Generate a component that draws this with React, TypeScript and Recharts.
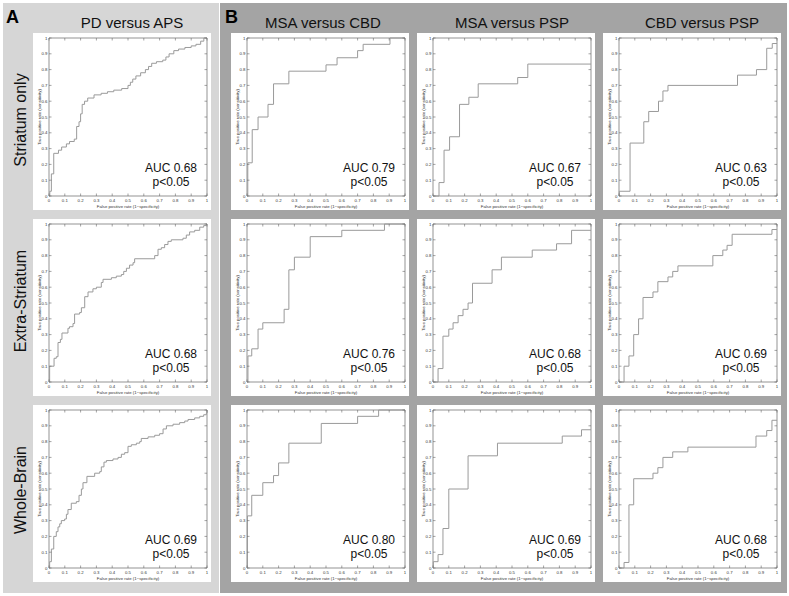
import { LineChart, Line, XAxis, YAxis, ReferenceArea } from 'recharts';

const FONT = '"Liberation Sans", Arial, Helvetica, sans-serif';

// tick values shared by both axes
const TICKS = [0, 0.1, 0.2, 0.3, 0.4, 0.5, 0.6, 0.7, 0.8, 0.9, 1];

const columnTitles = ['PD versus APS', 'MSA versus CBD', 'MSA versus PSP', 'CBD versus PSP'];
const rowTitles = ['Striatum only', 'Extra-Striatum', 'Whole-Brain'];

// ROC points [false positive rate, true positive rate], drawn as steps
const pdApsStriatum = [
  [0, 0], [0.005, 0.03], [0.015, 0.14], [0.03, 0.27], [0.06, 0.29], [0.08, 0.31], [0.11, 0.33],
  [0.13, 0.345], [0.16, 0.36], [0.175, 0.44], [0.19, 0.47], [0.2, 0.52], [0.21, 0.58], [0.225, 0.6],
  [0.245, 0.62], [0.285, 0.64], [0.33, 0.65], [0.37, 0.66], [0.41, 0.67], [0.46, 0.68], [0.5, 0.7],
  [0.515, 0.72], [0.53, 0.74], [0.55, 0.76], [0.58, 0.78], [0.61, 0.8], [0.63, 0.82], [0.65, 0.84],
  [0.68, 0.85], [0.72, 0.86], [0.74, 0.88], [0.76, 0.9], [0.79, 0.92], [0.82, 0.93], [0.86, 0.94],
  [0.9, 0.95], [0.93, 0.96], [0.96, 0.98], [0.98, 1], [1, 1],
];
const pdApsExtra = [
  [0, 0], [0.004, 0.1], [0.032, 0.15], [0.046, 0.16], [0.057, 0.25], [0.072, 0.27], [0.082, 0.31],
  [0.12, 0.34], [0.13, 0.35], [0.152, 0.37], [0.162, 0.43], [0.194, 0.44], [0.205, 0.47], [0.226, 0.54],
  [0.247, 0.57], [0.278, 0.59], [0.3, 0.6], [0.331, 0.63], [0.342, 0.65], [0.395, 0.66], [0.426, 0.67],
  [0.458, 0.68], [0.473, 0.7], [0.49, 0.72], [0.51, 0.74], [0.532, 0.755], [0.542, 0.78], [0.669, 0.8],
  [0.69, 0.84], [0.711, 0.85], [0.732, 0.87], [0.753, 0.89], [0.774, 0.9], [0.848, 0.91], [0.869, 0.93],
  [0.89, 0.95], [0.922, 0.96], [0.954, 0.98], [0.979, 0.99], [0.996, 1], [1, 1],
];
const pdApsWhole = [
  [0, 0], [0.004, 0.04], [0.015, 0.12], [0.03, 0.2], [0.046, 0.23], [0.057, 0.26], [0.068, 0.28],
  [0.078, 0.3], [0.099, 0.31], [0.11, 0.34], [0.12, 0.37], [0.141, 0.41], [0.173, 0.42], [0.19, 0.46],
  [0.205, 0.5], [0.215, 0.54], [0.24, 0.58], [0.289, 0.6], [0.321, 0.61], [0.331, 0.64], [0.348, 0.67],
  [0.363, 0.68], [0.405, 0.69], [0.437, 0.7], [0.458, 0.72], [0.479, 0.73], [0.5, 0.77], [0.521, 0.78],
  [0.553, 0.79], [0.574, 0.8], [0.584, 0.82], [0.627, 0.83], [0.669, 0.84], [0.7, 0.85], [0.722, 0.88],
  [0.743, 0.9], [0.785, 0.91], [0.827, 0.92], [0.859, 0.93], [0.88, 0.94], [0.922, 0.95], [0.954, 0.96],
  [0.979, 0.97], [0.996, 0.98], [1, 1],
];
const msaCbdStriatum = [
  [0, 0], [0.005, 0.21], [0.033, 0.42], [0.07, 0.5], [0.133, 0.58], [0.168, 0.71], [0.265, 0.79],
  [0.5, 0.83], [0.57, 0.875], [0.7, 0.92], [0.735, 0.96], [0.905, 1], [1, 1],
];
const msaCbdExtra = [
  [0, 0], [0.006, 0.165], [0.03, 0.21], [0.07, 0.335], [0.1, 0.375], [0.235, 0.46], [0.265, 0.71],
  [0.3, 0.79], [0.4, 0.92], [0.6, 0.96], [0.87, 1], [1, 1],
];
const msaCbdWhole = [
  [0, 0], [0.003, 0.33], [0.03, 0.46], [0.1, 0.54], [0.168, 0.585], [0.2, 0.665], [0.265, 0.79],
  [0.47, 0.915], [0.7, 0.96], [0.833, 1], [1, 1],
];
const msaPspStriatum = [
  [0, 0], [0.038, 0.085], [0.07, 0.29], [0.105, 0.375], [0.168, 0.58], [0.227, 0.625], [0.286, 0.71],
  [0.536, 0.75], [0.6, 0.835], [1, 0.835],
];
const msaPspExtra = [
  [0, 0], [0.032, 0.085], [0.063, 0.29], [0.1, 0.335], [0.127, 0.375], [0.159, 0.42], [0.19, 0.46],
  [0.222, 0.5], [0.25, 0.625], [0.374, 0.71], [0.433, 0.79], [0.628, 0.835], [0.782, 0.875],
  [0.877, 0.96], [1, 0.96],
];
const msaPspWhole = [
  [0, 0], [0.002, 0.04], [0.032, 0.085], [0.063, 0.25], [0.1, 0.5], [0.222, 0.71], [0.408, 0.79],
  [0.818, 0.835], [0.94, 0.875], [1, 0.875],
];
const cbdPspStriatum = [
  [0, 0], [0.002, 0.03], [0.07, 0.335], [0.157, 0.47], [0.188, 0.535], [0.25, 0.6], [0.278, 0.665],
  [0.31, 0.7], [0.75, 0.765], [0.87, 0.8], [0.935, 0.935], [0.97, 0.965], [1, 0.965],
];
const cbdPspExtra = [
  [0, 0], [0.032, 0.1], [0.063, 0.165], [0.093, 0.3], [0.124, 0.4], [0.152, 0.535], [0.215, 0.57],
  [0.246, 0.635], [0.31, 0.665], [0.34, 0.7], [0.373, 0.735], [0.594, 0.8], [0.657, 0.835],
  [0.684, 0.865], [0.716, 0.935], [0.968, 0.965], [1, 0.965],
];
const cbdPspWhole = [
  [0, 0], [0.032, 0.035], [0.063, 0.4], [0.093, 0.565], [0.215, 0.6], [0.246, 0.635], [0.278, 0.7],
  [0.34, 0.735], [0.436, 0.765], [0.867, 0.835], [0.935, 0.87], [0.968, 0.935], [1, 0.935],
];

const aucValues = [
  ['0.68', '0.79', '0.67', '0.63'],
  ['0.68', '0.76', '0.68', '0.69'],
  ['0.69', '0.80', '0.69', '0.68'],
];

const curves = [
  [pdApsStriatum, msaCbdStriatum, msaPspStriatum, cbdPspStriatum],
  [pdApsExtra, msaCbdExtra, msaPspExtra, cbdPspExtra],
  [pdApsWhole, msaCbdWhole, msaPspWhole, cbdPspWhole],
];

const PLOT = 158;
const CELL_W = 178;
const CELL_H = 177;
const cellLeft = [33, 231, 417, 603];
const cellTop = [33, 219, 405];
const titleX = [132, 323, 512, 702];
const rowY = [120, 301, 490];

const AXIS = '#666';
const TEXT = '#333';

const fmt = (v: number) => (v === 0 ? '0' : v === 1 ? '1' : v.toFixed(1));

const XTick = ({ x, y, payload }: any) => (
  <g>
    <line x1={x} x2={x} y1={y} y2={y - 2.5} stroke={AXIS} strokeWidth={0.6} />
    <line x1={x} x2={x} y1={y - PLOT} y2={y - PLOT + 2.5} stroke={AXIS} strokeWidth={0.6} />
    <text x={x} y={y + 5.5} fontSize={4.3} textAnchor="middle" fill={TEXT} fontFamily={FONT}>
      {fmt(payload.value)}
    </text>
  </g>
);

const YTick = ({ x, y, payload }: any) => (
  <g>
    <line x1={x} x2={x + 2.5} y1={y} y2={y} stroke={AXIS} strokeWidth={0.6} />
    <line x1={x + PLOT} x2={x + PLOT - 2.5} y1={y} y2={y} stroke={AXIS} strokeWidth={0.6} />
    <text x={x - 1.5} y={y + 1.5} fontSize={4.3} textAnchor="end" fill={TEXT} fontFamily={FONT}>
      {fmt(payload.value)}
    </text>
  </g>
);

function RocCell({ points, auc, left, top }: { points: number[][]; auc: string; left: number; top: number }) {
  const data = points.map(([x, y]) => ({ x, y }));
  return (
    <div style={{ position: 'absolute', left, top, width: CELL_W, height: CELL_H, background: '#fff' }}>
      <LineChart width={CELL_W} height={CELL_H} data={data} margin={{ top: 5, right: 4, left: 0, bottom: 0 }}>
        <XAxis
          dataKey="x"
          type="number"
          domain={[0, 1]}
          ticks={TICKS}
          interval={0}
          height={14}
          tickSize={0}
          tickMargin={0}
          axisLine={false}
          tick={(p: any) => <XTick {...p} />}
          label={{
            value: 'False positive rate (1\u2212specificity)',
            position: 'insideBottom',
            offset: 2,
            fontSize: 4.3,
            fill: TEXT,
            fontFamily: FONT,
          }}
        />
        <YAxis
          type="number"
          domain={[0, 1]}
          ticks={TICKS}
          interval={0}
          width={16}
          tickSize={0}
          tickMargin={0}
          axisLine={false}
          tick={(p: any) => <YTick {...p} />}
          label={{
            value: 'True positive rate (sensitivity)',
            angle: -90,
            position: 'insideLeft',
            offset: 6,
            fontSize: 4.3,
            fill: TEXT,
            fontFamily: FONT,
            style: { textAnchor: 'middle' },
          }}
        />
        <ReferenceArea x1={0} x2={1} y1={0} y2={1} fill="none" fillOpacity={0} stroke={AXIS} strokeWidth={0.7} />
        <Line
          dataKey="y"
          type="stepAfter"
          stroke="#9a9a9a"
          strokeWidth={1}
          dot={false}
          isAnimationActive={false}
        />
      </LineChart>
      <div
        style={{
          position: 'absolute',
          left: 98,
          top: 128,
          width: 80,
          textAlign: 'center',
          fontFamily: FONT,
          fontSize: 12,
          lineHeight: '14px',
          color: '#111',
        }}
      >
        <div>AUC {auc}</div>
        <div>p&lt;0.05</div>
      </div>
    </div>
  );
}

export default function App() {
  return (
    <div style={{ position: 'absolute', left: 0, top: 0, width: 789, height: 596, background: '#fff', overflow: 'hidden' }}>
      <svg width={789} height={596} style={{ position: 'absolute', left: 0, top: 0 }}>
        <rect x={3} y={3} width={216} height={590} fill="#d6d6d6" />
        <rect x={220} y={3} width={567} height={590} fill="#a4a4a4" />
        <text x={6} y={23} fontSize={18} fontWeight="bold" fontFamily={FONT} fill="#000">A</text>
        <text x={225} y={23} fontSize={18} fontWeight="bold" fontFamily={FONT} fill="#000">B</text>
        {columnTitles.map((t, i) => (
          <text key={t} x={titleX[i]} y={28} fontSize={15} textAnchor="middle" fontFamily={FONT} fill="#111">
            {t}
          </text>
        ))}
        {rowTitles.map((t, i) => (
          <text
            key={t}
            x={20}
            y={rowY[i]}
            fontSize={16}
            textAnchor="middle"
            dominantBaseline="central"
            fontFamily={FONT}
            fill="#111"
            transform={`rotate(-90 20 ${rowY[i]})`}
          >
            {t}
          </text>
        ))}
      </svg>
      {curves.map((row, r) =>
        row.map((pts, c) => (
          <RocCell key={`${r}-${c}`} points={pts} auc={aucValues[r][c]} left={cellLeft[c]} top={cellTop[r]} />
        ))
      )}
    </div>
  );
}
